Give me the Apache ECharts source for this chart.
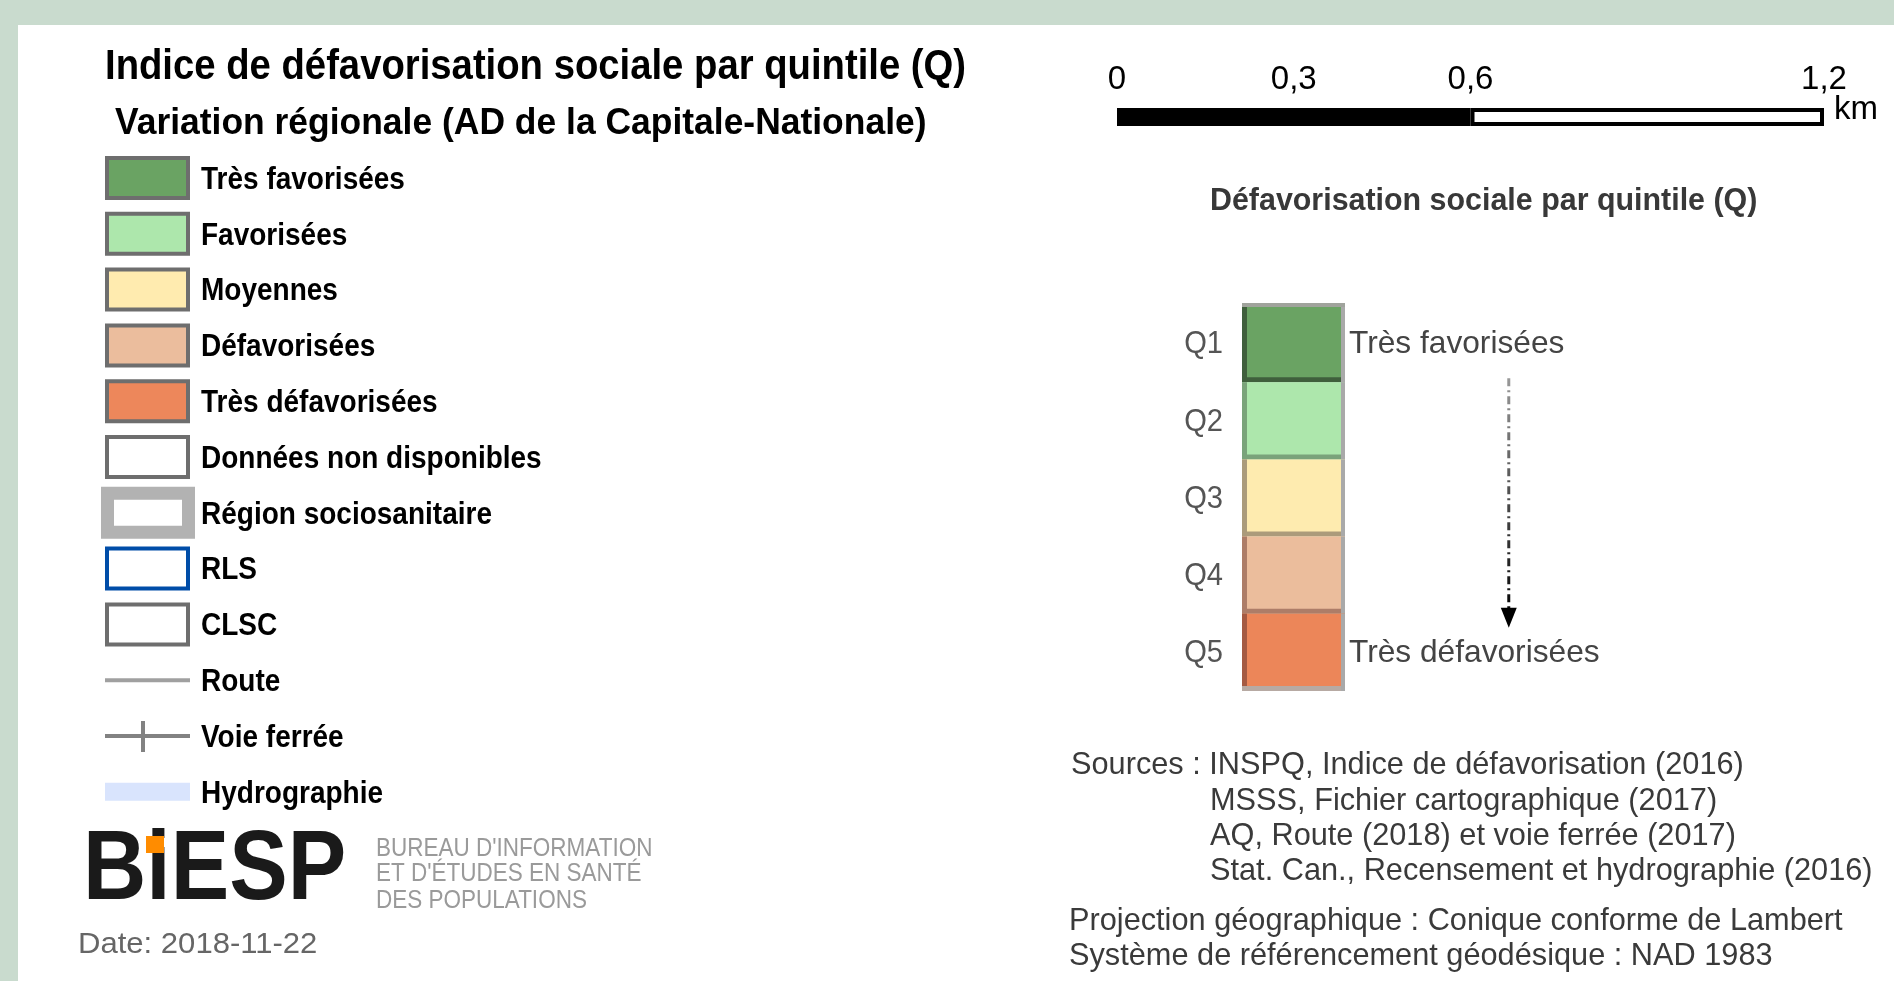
<!DOCTYPE html>
<html>
<head>
<meta charset="utf-8">
<script src="https://cdn.jsdelivr.net/npm/echarts@6/dist/echarts.min.js"></script>
<style>
html,body{margin:0;padding:0;background:#ffffff;}
#chart{width:1894px;height:981px;}
</style>
</head>
<body>
<div id="chart"></div>
<script>
// ---------- data ----------
const titleText = 'Indice de défavorisation sociale par quintile (Q)';
const subtitleText = 'Variation régionale (AD de la Capitale-Nationale)';
const legendLabels = ['Très favorisées', 'Favorisées', 'Moyennes', 'Défavorisées', 'Très défavorisées',
  'Données non disponibles', 'Région sociosanitaire', 'RLS', 'CLSC', 'Route', 'Voie ferrée', 'Hydrographie'];
const legendKinds = ['box', 'box', 'box', 'box', 'box', 'box', 'region', 'box', 'box', 'line', 'rail', 'water'];

const scaleTickValues = [0, 0.3, 0.6, 1.2];
const scaleTickLabels = ['0', '0,3', '0,6', '1,2'];
const scaleSegments = [0.6, 0.6];
const scaleUnit = 'km';

const rampTitle = 'Défavorisation sociale par quintile (Q)';
const quintiles = ['Q1', 'Q2', 'Q3', 'Q4', 'Q5'];
const quintileEndLabels = ['Très favorisées', '', '', '', 'Très défavorisées'];
const arrowPath = [[2.59, 0.95], [2.59, 4.05]];

const sourceLines = ['Sources : INSPQ, Indice de défavorisation (2016)', 'MSSS, Fichier cartographique (2017)',
  'AQ, Route (2018) et voie ferrée (2017)', 'Stat. Can., Recensement et hydrographie (2016)'];
const projectionLines = ['Projection géographique : Conique conforme de Lambert',
  'Système de référencement géodésique : NAD 1983'];
const logoName = 'BiESP';
const logoSubLines = ["BUREAU D'INFORMATION", "ET D'ÉTUDES EN SANTÉ", 'DES POPULATIONS'];
const dateText = 'Date: 2018-11-22';

// ---------- styles ----------
const FF = '"Liberation Sans", Arial, sans-serif';
const swatchFill = ['#6aa363', '#ade7ac', '#ffebaf', '#ebbd9d', '#ed875b', '#ffffff', '#ffffff', '#ffffff', '#ffffff',
  '#a0a0a0', '#828282', '#d9e4fd'];
const swatchStroke = ['#6e6e6e', '#6e6e6e', '#6e6e6e', '#6e6e6e', '#6e6e6e', '#6e6e6e', '#b2b2b2', '#004da8', '#6e6e6e',
  '#a0a0a0', '#828282', 'none'];
const rampFill = ['#6aa363', '#ade7ac', '#feebaf', '#ebbd9c', '#ec8659'];
const rampDark = ['#3f5f3c', '#7aa37a', '#ab9b7b', '#ad7d68', '#a55a42'];

function txt(text, x, y, font, fill, scaleX, align) {
  return {
    type: 'text', x: x, y: y, scaleX: scaleX || 1,
    style: { text: text, font: font, fill: fill, align: align || 'left', verticalAlign: 'middle',
      textAlign: align || 'left', textVerticalAlign: 'middle' }
  };
}

function renderLegendRow(params, api) {
  const i = params.dataIndex;
  const a = api.coord([0, i]);
  const b = api.coord([api.value(0), i]);
  const x0 = a[0], x1 = b[0], cy = a[1], w = x1 - x0;
  const kind = legendKinds[i];
  const children = [];
  if (kind === 'box') {
    children.push({ type: 'rect', shape: { x: x0 + 2, y: cy - 20, width: w - 4, height: 40 },
      style: { fill: swatchFill[i], stroke: swatchStroke[i], lineWidth: 4 } });
  } else if (kind === 'region') {
    children.push({ type: 'rect', shape: { x: x0 + 2.5, y: cy - 19.5, width: w - 4, height: 39 },
      style: { fill: swatchFill[i], stroke: swatchStroke[i], lineWidth: 13 } });
  } else if (kind === 'line') {
    children.push({ type: 'line', shape: { x1: x0, y1: cy, x2: x1, y2: cy },
      style: { stroke: swatchStroke[i], lineWidth: 4 } });
  } else if (kind === 'rail') {
    children.push({ type: 'line', shape: { x1: x0, y1: cy, x2: x1, y2: cy },
      style: { stroke: swatchStroke[i], lineWidth: 4 } });
    children.push({ type: 'line', shape: { x1: x0 + 38, y1: cy - 15, x2: x0 + 38, y2: cy + 16 },
      style: { stroke: swatchStroke[i], lineWidth: 4 } });
  } else if (kind === 'water') {
    children.push({ type: 'rect', shape: { x: x0, y: cy - 9, width: w, height: 18 },
      style: { fill: swatchFill[i] } });
  }
  children.push(txt(legendLabels[i], x1 + 11, cy + 2, 'bold 32px ' + FF, '#000000', 0.875));
  return { type: 'group', children: children };
}

function renderRamp(params, api) {
  const i = params.dataIndex;
  const a = api.coord([0, i]);
  const b = api.coord([api.value(0), i]);
  const h = api.size([0, 1])[1];
  const x0 = a[0], x1 = b[0], w = x1 - x0, top = a[1] - h / 2;
  const children = [
    { type: 'rect', shape: { x: x0, y: top, width: w, height: h }, style: { fill: rampFill[i] } },
    { type: 'rect', shape: { x: x0, y: top, width: 5, height: h }, style: { fill: rampDark[i] } },
    { type: 'rect', shape: { x: x0, y: top + h - 5, width: w, height: 5 },
      style: { fill: i === quintiles.length - 1 ? '#b7aaa3' : rampDark[i] } },
    { type: 'rect', shape: { x: x1 - 4, y: top, width: 4, height: h }, style: { fill: '#a9a9a9' } }
  ];
  if (i === 0) {
    children.push({ type: 'rect', shape: { x: x0, y: top - 2, width: w, height: 4 }, style: { fill: '#a0a39c' } });
  }
  children.push(txt(quintiles[i], x0 - 19, a[1] + 1, '32px ' + FF, '#555555', 0.91, 'right'));
  if (quintileEndLabels[i]) {
    children.push(txt(quintileEndLabels[i], x1 + 4, a[1] + 1, '32px ' + FF, '#444444', 0.99));
  }
  return { type: 'group', children: children };
}

// ---------- static texts (graphic) ----------
const graphics = [
  { type: 'rect', shape: { x: 0, y: 0, width: 1894, height: 25 }, style: { fill: '#c9dbce' } },
  { type: 'rect', shape: { x: 0, y: 0, width: 18, height: 981 }, style: { fill: '#c9dbce' } },
  txt(titleText, 105, 67, 'bold 42px ' + FF, '#000000', 0.911),
  txt(subtitleText, 115, 123.5, 'bold 37px ' + FF, '#000000', 0.958),
  txt(rampTitle, 1210, 201.5, 'bold 32px ' + FF, '#383838', 0.95),
  txt(logoName, 83, 872, 'bold 98px ' + FF, '#1a1a1a', 0.895),
  { type: 'rect', shape: { x: 146, y: 836, width: 18, height: 17 }, style: { fill: '#ff8c00' } },
  txt(dateText, 78, 945, '30px ' + FF, '#666666', 1.035)
];
logoSubLines.forEach(function (s, k) {
  graphics.push(txt(s, 376, [849, 874.5, 901.5][k], '25px ' + FF, '#9a9a9a', 0.9));
});
sourceLines.forEach(function (s, k) {
  graphics.push(txt(s, k === 0 ? 1071 : 1210, 765.5 + k * 35.3, '32px ' + FF, '#3a3a3a', 0.96));
});
projectionLines.forEach(function (s, k) {
  graphics.push(txt(s, 1069, 921.5 + k * 35, '32px ' + FF, '#3a3a3a', 0.96));
});

const chart = echarts.init(document.getElementById('chart'));
chart.setOption({
  animation: false,
  backgroundColor: '#ffffff',
  grid: [
    { left: 105, top: 150.1, width: 85, height: 669.6, outerBoundsMode: 'none' },
    { left: 1117, top: 108, width: 707, height: 18, outerBoundsMode: 'none' },
    { left: 1242, top: 305, width: 412, height: 386, outerBoundsMode: 'none' },
    { left: 1242, top: 305, width: 412, height: 386, outerBoundsMode: 'none' }
  ],
  xAxis: [
    { gridIndex: 0, type: 'value', min: 0, max: 1, show: false },
    { gridIndex: 1, type: 'value', min: 0, max: 1.2, interval: 0.3, position: 'top',
      axisLine: { show: false }, axisTick: { show: false }, splitLine: { show: false },
      axisLabel: { margin: 12, fontSize: 33, fontFamily: FF, color: '#000000',
        formatter: function (v) {
          for (let k = 0; k < scaleTickValues.length; k++) {
            if (Math.abs(v - scaleTickValues[k]) < 1e-6) return scaleTickLabels[k];
          }
          return '';
        } } },
    { gridIndex: 2, type: 'value', min: 0, max: 4, show: false },
    { gridIndex: 3, type: 'value', min: 0, max: 4, show: false }
  ],
  yAxis: [
    { gridIndex: 0, type: 'category', data: legendLabels, inverse: true, show: false },
    { gridIndex: 1, type: 'category', data: ['échelle'], show: false },
    { gridIndex: 2, type: 'category', data: quintiles, inverse: true, show: false },
    { gridIndex: 3, type: 'value', min: 0, max: 5, inverse: true, show: false }
  ],
  graphic: graphics,
  series: [
    { type: 'custom', name: 'Légende', xAxisIndex: 0, yAxisIndex: 0, silent: true,
      encode: { x: 0, y: 1 },
      data: legendLabels.map(function (l, i) { return [1, i]; }),
      renderItem: renderLegendRow },
    { type: 'bar', name: 'échelle-noir', xAxisIndex: 1, yAxisIndex: 1, stack: 'echelle', barWidth: 18, silent: true,
      data: [scaleSegments[0]],
      itemStyle: { color: '#000000', borderColor: '#000000', borderWidth: 4 } },
    { type: 'bar', name: 'échelle-blanc', xAxisIndex: 1, yAxisIndex: 1, stack: 'echelle', barWidth: 18, silent: true,
      data: [scaleSegments[1]],
      itemStyle: { color: '#ffffff', borderColor: '#000000', borderWidth: 4 },
      label: { show: true, position: 'right', distance: 10, offset: [0, -7], formatter: scaleUnit,
        fontSize: 33, fontFamily: FF, color: '#000000' } },
    { type: 'custom', name: 'Quintiles', xAxisIndex: 2, yAxisIndex: 2, silent: true,
      encode: { x: 0, y: 1 },
      data: quintiles.map(function (q, i) { return [1, i]; }),
      renderItem: renderRamp },
    { type: 'line', name: 'flèche', xAxisIndex: 3, yAxisIndex: 3, silent: true,
      data: [
        { value: arrowPath[0], symbol: 'none' },
        { value: arrowPath[1], symbol: 'triangle', symbolSize: [16, 20], symbolRotate: 180 }
      ],
      itemStyle: { color: '#000000' },
      lineStyle: { width: 3, type: [8, 4, 2, 4],
        color: new echarts.graphic.LinearGradient(0, 0, 0, 1, [
          { offset: 0, color: '#9a9a9a' }, { offset: 1, color: '#000000' }]) } }
  ]
});
</script>
</body>
</html>
